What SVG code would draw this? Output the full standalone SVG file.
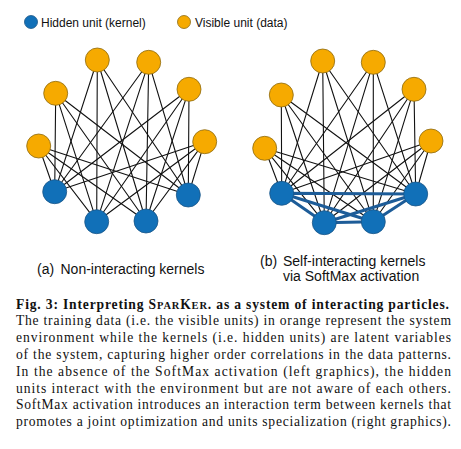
<svg xmlns="http://www.w3.org/2000/svg" width="461" height="449" viewBox="0 0 461 449">
<style>
.bg{fill:#ffffff}
.vis{fill:#f6aa00;stroke:#8c6a12;stroke-width:0.8}
.hid{fill:#1170b8;stroke:#1b5686;stroke-width:0.8}
.e{stroke:#111111;stroke-width:1.1;fill:none}
.k{stroke:#1d5c98;stroke-width:3;fill:none}
.sans{font-family:"Liberation Sans",Arial,Helvetica,sans-serif;fill:#111111}
.leg{font-size:12px}
.cap{font-size:14px}
.body{font-family:"Liberation Serif","Times New Roman",serif;font-size:13.6px;fill:#111111}
.bold{font-weight:bold}
</style>
<rect class="bg" x="0" y="0" width="461" height="449"/>
<g id="legend">
<circle class="hid" cx="31" cy="22" r="6.5"/>
<text class="sans leg" x="41" y="26.5">Hidden unit (kernel)</text>
<circle class="vis" cx="184" cy="22" r="6.5"/>
<text class="sans leg" x="195" y="26.5">Visible unit (data)</text>
</g>
<g id="connectors">
<!-- left panel: visible to hidden -->
<g id="edges-a">
<path class="e" d="M97.3,60L54.7,191.7M97.3,60L96.7,221.7M97.3,60L146,221M97.3,60L188.3,195"/>
<path class="e" d="M148.7,62.3L54.7,191.7M148.7,62.3L96.7,221.7M148.7,62.3L146,221M148.7,62.3L188.3,195"/>
<path class="e" d="M55.7,93.3L54.7,191.7M55.7,93.3L96.7,221.7M55.7,93.3L146,221M55.7,93.3L188.3,195"/>
<path class="e" d="M189,89.3L54.7,191.7M189,89.3L96.7,221.7M189,89.3L146,221M189,89.3L188.3,195"/>
<path class="e" d="M38.7,146L54.7,191.7M38.7,146L96.7,221.7M38.7,146L146,221M38.7,146L188.3,195"/>
<path class="e" d="M204.7,141.7L54.7,191.7M204.7,141.7L96.7,221.7M204.7,141.7L146,221M204.7,141.7L188.3,195"/>
</g>
<!-- right panel: visible to hidden -->
<g id="edges-b">
<path class="e" d="M322.7,61L281.7,193.3M322.7,61L324.3,222.7M322.7,61L373.3,221.7M322.7,61L415.7,194"/>
<path class="e" d="M373.3,62.3L281.7,193.3M373.3,62.3L324.3,222.7M373.3,62.3L373.3,221.7M373.3,62.3L415.7,194"/>
<path class="e" d="M281.3,95L281.7,193.3M281.3,95L324.3,222.7M281.3,95L373.3,221.7M281.3,95L415.7,194"/>
<path class="e" d="M414,89.3L281.7,193.3M414,89.3L324.3,222.7M414,89.3L373.3,221.7M414,89.3L415.7,194"/>
<path class="e" d="M264.7,148.3L281.7,193.3M264.7,148.3L324.3,222.7M264.7,148.3L373.3,221.7M264.7,148.3L415.7,194"/>
<path class="e" d="M431,141L281.7,193.3M431,141L324.3,222.7M431,141L373.3,221.7M431,141L415.7,194"/>
<!-- hidden to hidden interaction -->
<path class="k" d="M281.7,193.3L415.7,194M281.7,193.3L324.3,222.7M281.7,193.3L373.3,221.7M324.3,222.7L373.3,221.7M324.3,222.7L415.7,194M373.3,221.7L415.7,194"/>
</g>
</g>
<g id="panel-a">
<g id="a-v1"><circle class="vis" cx="97.3" cy="60" r="12"/></g>
<g id="a-v2"><circle class="vis" cx="148.7" cy="62.3" r="12"/></g>
<g id="a-v3"><circle class="vis" cx="55.7" cy="93.3" r="12"/></g>
<g id="a-v4"><circle class="vis" cx="189" cy="89.3" r="12"/></g>
<g id="a-v5"><circle class="vis" cx="38.7" cy="146" r="12"/></g>
<g id="a-v6"><circle class="vis" cx="204.7" cy="141.7" r="12"/></g>
<g id="a-h1"><circle class="hid" cx="54.7" cy="191.7" r="12"/></g>
<g id="a-h2"><circle class="hid" cx="96.7" cy="221.7" r="12"/></g>
<g id="a-h3"><circle class="hid" cx="146" cy="221" r="12"/></g>
<g id="a-h4"><circle class="hid" cx="188.3" cy="195" r="12"/></g>
<text class="sans cap" x="37" y="274">(a)</text>
<text class="sans cap" x="60.5" y="274">Non-interacting kernels</text>
</g>
<g id="panel-b">
<g id="b-v1"><circle class="vis" cx="322.7" cy="61" r="12"/></g>
<g id="b-v2"><circle class="vis" cx="373.3" cy="62.3" r="12"/></g>
<g id="b-v3"><circle class="vis" cx="281.3" cy="95" r="12"/></g>
<g id="b-v4"><circle class="vis" cx="414" cy="89.3" r="12"/></g>
<g id="b-v5"><circle class="vis" cx="264.7" cy="148.3" r="12"/></g>
<g id="b-v6"><circle class="vis" cx="431" cy="141" r="12"/></g>
<g id="b-h1"><circle class="hid" cx="281.7" cy="193.3" r="12"/></g>
<g id="b-h2"><circle class="hid" cx="324.3" cy="222.7" r="12"/></g>
<g id="b-h3"><circle class="hid" cx="373.3" cy="221.7" r="12"/></g>
<g id="b-h4"><circle class="hid" cx="415.7" cy="194" r="12"/></g>
<text class="sans cap" x="260" y="266">(b)</text>
<text class="sans cap" x="283" y="266">Self-interacting kernels</text>
<text class="sans cap" x="283" y="281">via SoftMax activation</text>
</g>
<g id="caption">
<text class="body bold" x="16" y="308.5" textLength="433" lengthAdjust="spacing">Fig. 3: Interpreting S<tspan font-size="10.5px">PAR</tspan>K<tspan font-size="10.5px">ER</tspan>. as a system of interacting particles.</text>
<text class="body" x="16" y="325.3" textLength="435" lengthAdjust="spacing">The training data (i.e. the visible units) in orange represent the system</text>
<text class="body" x="16" y="342.1" textLength="435" lengthAdjust="spacing">environment while the kernels (i.e. hidden units) are latent variables</text>
<text class="body" x="16" y="358.9" textLength="435" lengthAdjust="spacing">of the system, capturing higher order correlations in the data patterns.</text>
<text class="body" x="16" y="375.7" textLength="435" lengthAdjust="spacing">In the absence of the SoftMax activation (left graphics), the hidden</text>
<text class="body" x="16" y="392.5" textLength="435" lengthAdjust="spacing">units interact with the environment but are not aware of each others.</text>
<text class="body" x="16" y="409.3" textLength="435" lengthAdjust="spacing">SoftMax activation introduces an interaction term between kernels that</text>
<text class="body" x="16" y="426.1" textLength="435" lengthAdjust="spacing">promotes a joint optimization and units specialization (right graphics).</text>
</g>
</svg>
